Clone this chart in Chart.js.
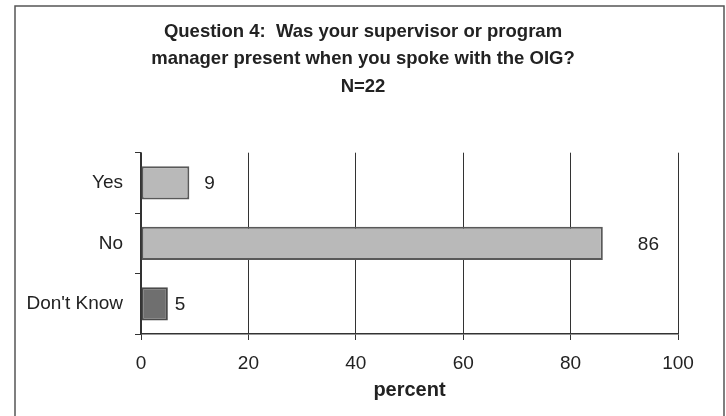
<!DOCTYPE html>
<html>
<head>
<meta charset="utf-8">
<script src="https://cdn.jsdelivr.net/npm/chart.js@4"></script>
<style>
  html, body { margin: 0; padding: 0; background: #fff; }
  #wrap { width: 726px; height: 416px; position: relative; }
</style>
</head>
<body>
<div id="wrap"><canvas id="chart"></canvas></div>
<script>
// Dados do gráfico
const categorias = ['Yes', 'No', "Don't Know"];
const percentuais = [9, 86, 5];
const ticksX = [0, 20, 40, 60, 80, 100];
const tituloLinhas = ['Question 4:  Was your supervisor or program', 'manager present when you spoke with the OIG?', 'N=22'];
const tituloEixoX = 'percent';

// Cores das barras
const corPreenchimento = ['#b9b9b9', '#b9b9b9', '#6f6f6f'];
const corBorda = ['#595959', '#595959', '#4a4a4a'];
// distância do rótulo até o fim da barra
const afastamentoRotulo = [15, 35, 7];

const fonte = '"Liberation Sans", Arial, sans-serif';

// Moldura em volta do gráfico
const moldura = {
    id: 'moldura',
    beforeDraw(chart) {
        const ctx = chart.ctx;
        ctx.save();
        ctx.strokeStyle = '#555';
        ctx.lineWidth = 1.5;
        ctx.beginPath();
        ctx.moveTo(15, 420);
        ctx.lineTo(15, 6);
        ctx.lineTo(724, 6);
        ctx.lineTo(724, 420);
        ctx.stroke();
        ctx.restore();
    }
};

// Rótulos com os valores ao lado das barras
const rotulosValores = {
    id: 'rotulosValores',
    afterDatasetsDraw(chart) {
        const ctx = chart.ctx;
        const meta = chart.getDatasetMeta(0);
        ctx.save();
        ctx.font = '19px ' + fonte;
        ctx.fillStyle = '#222';
        ctx.textBaseline = 'middle';
        ctx.textAlign = 'left';
        meta.data.forEach((bar, i) => {
            ctx.fillText(String(percentuais[i]), bar.x + afastamentoRotulo[i], bar.y + 1);
        });
        ctx.restore();
    }
};

const ctx = document.getElementById('chart').getContext('2d');
new Chart(ctx, {
    type: 'bar',
    data: {
        labels: categorias,
        datasets: [{
            data: percentuais,
            backgroundColor: corPreenchimento,
            borderColor: corBorda,
            borderWidth: 2,
            borderSkipped: false,
            barPercentage: 0.55,
            categoryPercentage: 1
        }]
    },
    options: {
        indexAxis: 'y',
        responsive: true,
        maintainAspectRatio: false,
        animation: false,
        layout: { padding: { left: 24, right: 24, top: 0, bottom: 0 } },
        plugins: {
            legend: { display: false },
            tooltip: { enabled: false },
            title: {
                display: true,
                text: tituloLinhas,
                color: '#222',
                font: { family: fonte, size: 18.5, weight: 'bold', lineHeight: 1.49 },
                padding: { top: 18, bottom: 52 }
            }
        },
        scales: {
            x: {
                min: 0,
                max: 100,
                afterBuildTicks(scale) {
                    scale.ticks = ticksX.map(v => ({ value: v }));
                },
                afterFit(scale) { scale.height = 82; },
                border: { display: true, color: '#333', width: 1.5 },
                grid: {
                    color: '#333',
                    lineWidth: 1,
                    tickLength: 6,
                    drawTicks: true
                },
                ticks: {
                    color: '#222',
                    padding: 12,
                    font: { family: fonte, size: 19 }
                },
                title: {
                    display: true,
                    text: tituloEixoX,
                    color: '#222',
                    font: { family: fonte, size: 20, weight: 'bold', lineHeight: 1.2 },
                    padding: { top: 0, bottom: 14 }
                }
            },
            y: {
                afterFit(scale) { scale.width = 117; },
                border: { display: true, color: '#333', width: 1.5 },
                grid: {
                    offset: true,
                    drawOnChartArea: false,
                    color: '#333',
                    tickLength: 6
                },
                ticks: {
                    color: '#222',
                    padding: 12,
                    font: { family: fonte, size: 19 }
                }
            },
            // eixo vazio só para reservar espaço à direita
            direita: {
                type: 'linear',
                position: 'right',
                axis: 'y',
                display: true,
                afterFit(scale) { scale.width = 24; },
                border: { display: false },
                grid: { display: false, drawTicks: false },
                ticks: { display: false }
            }
        }
    },
    plugins: [moldura, rotulosValores]
});
</script>
</body>
</html>
